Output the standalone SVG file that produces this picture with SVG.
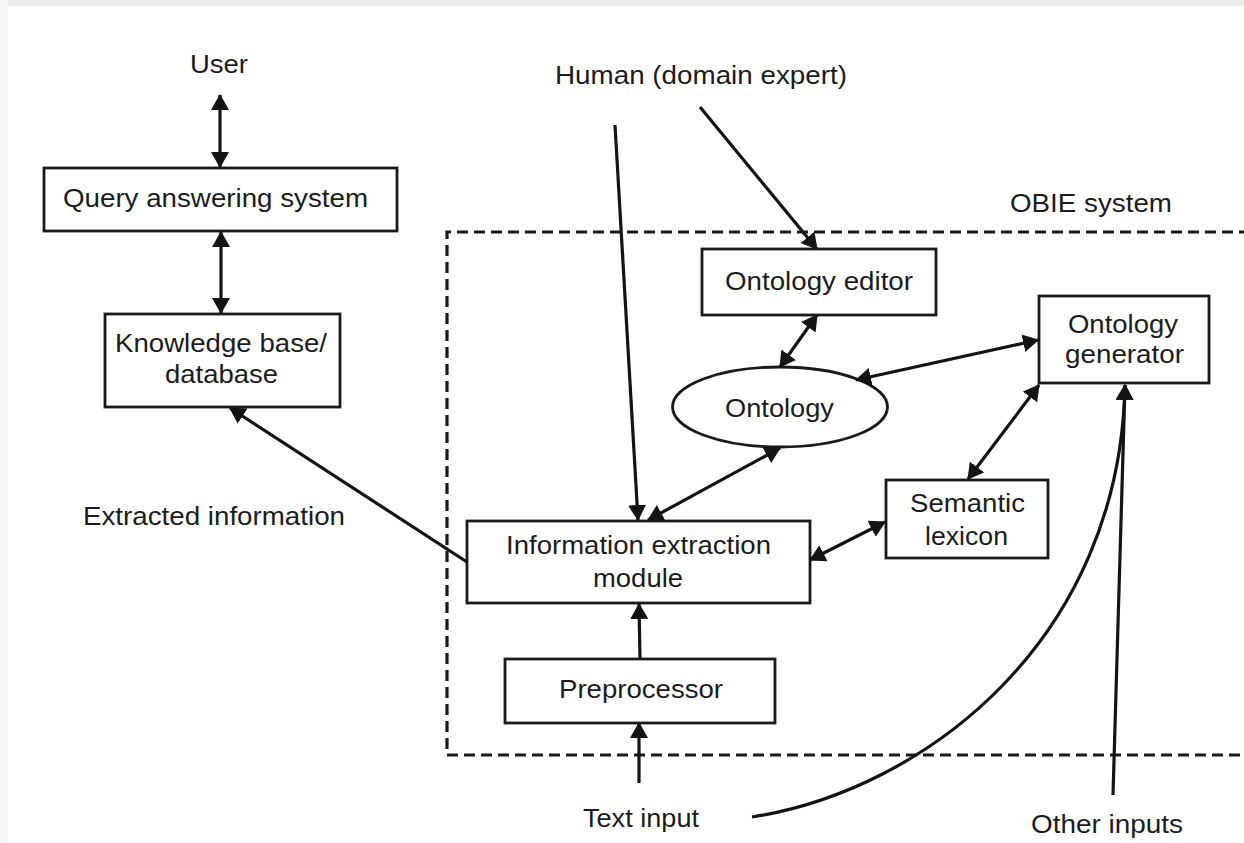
<svg xmlns="http://www.w3.org/2000/svg" width="1244" height="843" viewBox="0 0 1244 843">
  <style>
    .box { fill: #ffffff; stroke: #1a1a1a; stroke-width: 2.8; }
    .lbl { font-family: "Liberation Sans", Arial, sans-serif; font-size: 26px; fill: #1c1c1c; }
    .con { fill: none; stroke: #141414; stroke-width: 3.2; }
    .one { marker-end: url(#head); }
    .two { marker-start: url(#head); marker-end: url(#head); }
    .frame { fill: none; stroke: #1a1a1a; stroke-width: 3.2; stroke-dasharray: 11 6; }
  </style>
  <defs>
    <marker id="head" viewBox="0 0 16 18" markerWidth="16" markerHeight="18" refX="15" refY="9" markerUnits="userSpaceOnUse" orient="auto-start-reverse">
      <path d="M0,0 L16,9 L0,18 Z" fill="#141414"/>
    </marker>
  </defs>

  <rect x="0" y="0" width="1244" height="843" fill="#ffffff"/>
  <rect x="0" y="0" width="1244" height="6" fill="#ececec"/>
  <rect x="0" y="0" width="8" height="843" fill="#f6f6f6"/>

  <!-- OBIE system boundary (open on the right) -->
  <g id="obie-system">
    <path class="frame" d="M1250,232 H447 V755 H1250"/>
    <text class="lbl" x="1010" y="212" textLength="162" lengthAdjust="spacingAndGlyphs">OBIE system</text>
  </g>

  <!-- free labels -->
  <g id="user"><text class="lbl" x="190" y="73" textLength="58" lengthAdjust="spacingAndGlyphs">User</text></g>
  <g id="human"><text class="lbl" x="555" y="84" textLength="292" lengthAdjust="spacingAndGlyphs">Human (domain expert)</text></g>
  <g id="extracted-information"><text class="lbl" x="83" y="525" textLength="262" lengthAdjust="spacingAndGlyphs">Extracted information</text></g>
  <g id="text-input"><text class="lbl" x="583" y="827" textLength="116" lengthAdjust="spacingAndGlyphs">Text input</text></g>
  <g id="other-inputs"><text class="lbl" x="1031" y="833" textLength="152" lengthAdjust="spacingAndGlyphs">Other inputs</text></g>

  <!-- nodes -->
  <g id="query-answering-system">
    <rect class="box" x="44" y="168" width="353" height="63"/>
    <text class="lbl" x="63" y="207" textLength="305" lengthAdjust="spacingAndGlyphs">Query answering system</text>
  </g>
  <g id="knowledge-base">
    <rect class="box" x="105" y="314" width="235" height="93"/>
    <text class="lbl" x="115" y="352" textLength="212" lengthAdjust="spacingAndGlyphs">Knowledge base/</text>
    <text class="lbl" x="165" y="383" textLength="113" lengthAdjust="spacingAndGlyphs">database</text>
  </g>
  <g id="ontology-editor">
    <rect class="box" x="702" y="249" width="234" height="66"/>
    <text class="lbl" x="725" y="290" textLength="188" lengthAdjust="spacingAndGlyphs">Ontology editor</text>
  </g>
  <g id="ontology-generator">
    <rect class="box" x="1039" y="296" width="170" height="87"/>
    <text class="lbl" x="1068" y="333" textLength="110" lengthAdjust="spacingAndGlyphs">Ontology</text>
    <text class="lbl" x="1065" y="363" textLength="119" lengthAdjust="spacingAndGlyphs">generator</text>
  </g>
  <g id="ontology">
    <ellipse class="box" cx="780" cy="407" rx="107.5" ry="40"/>
    <text class="lbl" x="725" y="417" textLength="109" lengthAdjust="spacingAndGlyphs">Ontology</text>
  </g>
  <g id="semantic-lexicon">
    <rect class="box" x="886" y="480" width="162" height="78"/>
    <text class="lbl" x="910" y="512" textLength="115" lengthAdjust="spacingAndGlyphs">Semantic</text>
    <text class="lbl" x="925" y="545" textLength="83" lengthAdjust="spacingAndGlyphs">lexicon</text>
  </g>
  <g id="information-extraction-module">
    <rect class="box" x="467" y="521" width="343" height="82"/>
    <text class="lbl" x="506" y="554" textLength="265" lengthAdjust="spacingAndGlyphs">Information extraction</text>
    <text class="lbl" x="593" y="587" textLength="90" lengthAdjust="spacingAndGlyphs">module</text>
  </g>
  <g id="preprocessor">
    <rect class="box" x="505" y="659" width="270" height="64"/>
    <text class="lbl" x="559" y="698" textLength="164" lengthAdjust="spacingAndGlyphs">Preprocessor</text>
  </g>

  <!-- connectors -->
  <g id="connectors">
    <path class="con two" d="M220,95 L220,167"/>
    <path class="con two" d="M221,232 L221,313"/>
    <path class="con one" d="M615,125 L638,520"/>
    <path class="con one" d="M700,107 L817,249"/>
    <path class="con two" d="M780,367 L817,315"/>
    <path class="con two" d="M856,380 L1038,340"/>
    <path class="con two" d="M968,479 L1039,385"/>
    <path class="con two" d="M648,520 L780,448"/>
    <path class="con two" d="M810,560 L885,522"/>
    <path class="con one" d="M640,659 L639,604"/>
    <path class="con one" d="M639,783 L639,723"/>
    <path class="con one" d="M467,562 L230,408"/>
    <path class="con one" d="M752,817 C925,790 1120,640 1125,385"/>
    <path class="con one" d="M1113,795 L1125,385"/>
  </g>
</svg>
